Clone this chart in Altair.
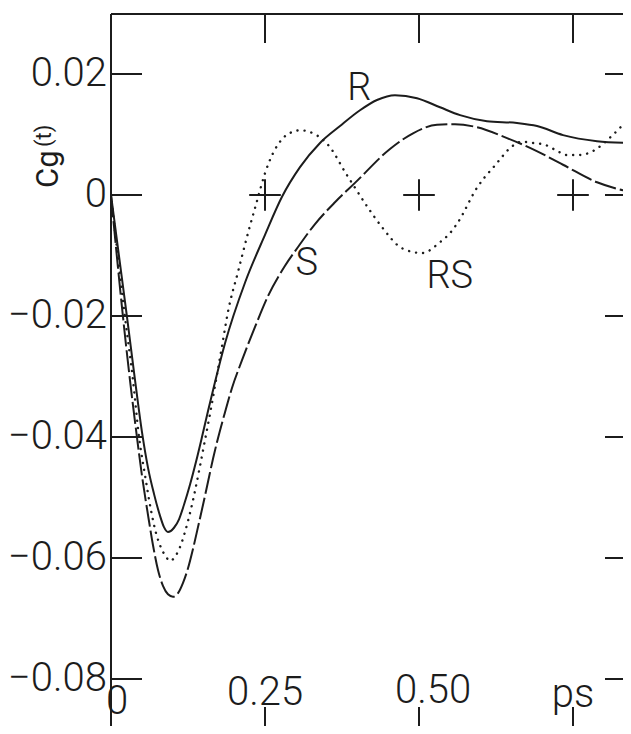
import altair as alt
import pandas as pd

# ---- data ----
t_R = [0.0, 0.0260, 0.0390, 0.0503, 0.0601, 0.0698, 0.0795, 0.0860, 0.0925, 0.1023, 0.1104,
       0.1185, 0.1282, 0.1380, 0.1477, 0.1575, 0.1672, 0.1851, 0.2175, 0.2500, 0.2776, 0.3068,
       0.3393, 0.3718, 0.4042, 0.4318, 0.4610, 0.4968, 0.5341, 0.5666, 0.6104, 0.6591, 0.6916,
       0.7338, 0.7890, 0.8425]
v_R = [0.0, -0.0202, -0.0306, -0.0392, -0.0451, -0.0494, -0.0530, -0.0549, -0.0557, -0.0550, -0.0536,
       -0.0512, -0.0479, -0.0441, -0.0400, -0.0357, -0.0316, -0.0245, -0.0145, -0.0066, -0.0003, 0.0046,
       0.0086, 0.0114, 0.0140, 0.0157, 0.0165, 0.0160, 0.0145, 0.0132, 0.0122, 0.0119, 0.0114,
       0.0099, 0.0089, 0.0086]

t_S = [0.0, 0.0195, 0.0308, 0.0406, 0.0503, 0.0601, 0.0682, 0.0763, 0.0844, 0.0925, 0.1006,
       0.1088, 0.1169, 0.1250, 0.1331, 0.1412, 0.1494, 0.1575, 0.1656, 0.1737, 0.1851, 0.1964,
       0.2127, 0.2338, 0.2549, 0.2825, 0.3036, 0.3312, 0.3636, 0.3961, 0.4529, 0.4903, 0.5292,
       0.5584, 0.5942, 0.6429, 0.6802, 0.7338, 0.7890, 0.8425]
v_S = [0.0, -0.0202, -0.0306, -0.0388, -0.0464, -0.0529, -0.0579, -0.0620, -0.0646, -0.0660, -0.0664,
       -0.0658, -0.0641, -0.0617, -0.0585, -0.0549, -0.0512, -0.0474, -0.0436, -0.0402, -0.0359, -0.0319,
       -0.0273, -0.0218, -0.0167, -0.0117, -0.0086, -0.0048, -0.0012, 0.0020, 0.0076, 0.0102, 0.0116,
       0.0117, 0.0112, 0.0094, 0.0078, 0.0050, 0.0021, 0.0005]

t_RS = [0.0, 0.0227, 0.0357, 0.0455, 0.0552, 0.0649, 0.0731, 0.0812, 0.0893, 0.0958,
        0.1039, 0.1120, 0.1201, 0.1282, 0.1364, 0.1445, 0.1526, 0.1607, 0.1705, 0.1802, 0.1899,
        0.2062, 0.2224, 0.2370, 0.2500, 0.2630, 0.2792, 0.2938, 0.3068, 0.3279, 0.3555, 0.3799,
        0.3961, 0.4172, 0.4399, 0.4724, 0.5049, 0.5341, 0.5503, 0.5633, 0.5942, 0.6071, 0.6201,
        0.6331, 0.6461, 0.6672, 0.6851, 0.7045, 0.7224, 0.7403, 0.7581, 0.7792, 0.7971, 0.8133,
        0.8263, 0.8393]
v_RS = [0.0, -0.0202, -0.0306, -0.0400, -0.0463, -0.0521, -0.0559, -0.0583, -0.0598, -0.0605,
        -0.0598, -0.0582, -0.0557, -0.0526, -0.0489, -0.0448, -0.0405, -0.0362, -0.0306, -0.0250, -0.0193,
        -0.0127, -0.0063, -0.0010, 0.0036, 0.0069, 0.0094, 0.0104, 0.0107, 0.0102, 0.0079, 0.0038,
        0.0012, -0.0021, -0.0053, -0.0088, -0.0096, -0.0078, -0.0063, -0.0045, 0.0012, 0.0030, 0.0045,
        0.0061, 0.0076, 0.0088, 0.0086, 0.0083, 0.0074, 0.0066, 0.0066, 0.0071, 0.0083, 0.0098,
        0.0111, 0.0126]

y_tick_vals = [0.02, 0.0, -0.02, -0.04, -0.06, -0.08]
y_tick_text = ["0.02", "0", "\u22120.02", "\u22120.04", "\u22120.06", "\u22120.08"]
x_tick_vals = [0.25, 0.50, 0.75]
x_label_vals = [0.0, 0.25, 0.50, 0.75]
x_label_text = ["0", "0.25", "0.50", "ps"]

curve_names = ["R", "S", "RS"]
curve_label_t = [0.403, 0.318, 0.550]
curve_label_v = [0.0157, -0.0132, -0.0154]

y_title = "Cg"
y_title_sup = "(t)"

# ---- styling ----
INK = "#1c1c1c"
FONT = "Roboto"
W, H = 512, 712
xs = alt.Scale(domain=[0, W / 616], nice=False, zero=False)
ys = alt.Scale(domain=[(195 - 726) / 6050, (195 - 14) / 6050], nice=False, zero=False)
X = lambda f: alt.X(f, type="quantitative", scale=xs, axis=None)
Y = lambda f: alt.Y(f, type="quantitative", scale=ys, axis=None)

def line(ts, vs, **kw):
    df = pd.DataFrame({"t": ts, "v": vs})
    return alt.Chart(df).mark_line(color=INK, interpolate="monotone", clip=True, **kw).encode(
        x=X("t"), y=Y("v"))

solid = line(t_R, v_R, strokeWidth=2)
dashed = line(t_S, v_S, strokeWidth=2, strokeDash=[22, 4])
dotted = line(t_RS, v_RS, strokeWidth=2.4, strokeDash=[0.1, 7], strokeCap="round")

ydf = pd.DataFrame({"v": y_tick_vals, "lab": y_tick_text})
xdf = pd.DataFrame({"t": x_tick_vals})

left_ticks = alt.Chart(ydf).mark_rule(color=INK, strokeWidth=2).encode(
    y=Y("v"), x=alt.value(0), x2=alt.value(31))
right_ticks = alt.Chart(ydf).mark_rule(color=INK, strokeWidth=2).encode(
    y=Y("v"), x=alt.value(W - 18), x2=alt.value(W))
top_ticks = alt.Chart(xdf).mark_rule(color=INK, strokeWidth=2).encode(
    x=X("t"), y=alt.value(0), y2=alt.value(29))
bottom_ticks = alt.Chart(xdf).mark_rule(color=INK, strokeWidth=2).encode(
    x=X("t"), y=alt.value(H - 19), y2=alt.value(H))
plus = alt.Chart(xdf.assign(z=0.0)).mark_point(
    shape="M-1,0L1,0M0,-1L0,1", size=1000, filled=False, strokeWidth=2, color=INK, opacity=1
).encode(x=X("t"), y=Y("z"))

left_axis = alt.Chart(ydf.head(1)).mark_rule(color=INK, strokeWidth=2).encode(
    x=alt.value(0), y=alt.value(0), y2=alt.value(H))
top_axis = alt.Chart(ydf.head(1)).mark_rule(color=INK, strokeWidth=2).encode(
    y=alt.value(0), x=alt.value(0), x2=alt.value(W))

ylabels = alt.Chart(ydf).mark_text(
    align="right", baseline="middle", dx=-4, fontSize=40, font=FONT, fontWeight=300, color=INK
).encode(y=Y("v"), x=alt.value(0), text="lab:N")

xl = pd.DataFrame({"t": x_label_vals, "lab": x_label_text})
xlab_layers = []
for i, (dx, yb) in enumerate([(6, 700), (0, 691), (14, 689), (0, 693)]):
    xlab_layers.append(
        alt.Chart(xl.iloc[[i]]).mark_text(
            align="center", baseline="alphabetic", dx=dx, fontSize=40, font=FONT, fontWeight=300, color=INK
        ).encode(x=X("t"), y=alt.value(yb), text="lab:N"))

cl = pd.DataFrame({"t": curve_label_t, "v": curve_label_v, "lab": curve_names})
curve_labels = alt.Chart(cl).mark_text(
    align="center", baseline="alphabetic", fontSize=38, font=FONT, fontWeight=300, color=INK
).encode(x=X("t"), y=Y("v"), text="lab:N")

title_main = alt.Chart(pd.DataFrame({"s": [y_title]})).mark_text(
    align="left", baseline="alphabetic", fontSize=31, font=FONT, color=INK, angle=270
).encode(x=alt.value(-53), y=alt.value(174), text="s:N")
title_sup = alt.Chart(pd.DataFrame({"s": [y_title_sup]})).mark_text(
    align="left", baseline="alphabetic", fontSize=22, font=FONT, color=INK, angle=270
).encode(x=alt.value(-60), y=alt.value(133), text="s:N")

chart = alt.layer(
    left_axis, top_axis, left_ticks, right_ticks, top_ticks, bottom_ticks, plus,
    dashed, dotted, solid, ylabels, *xlab_layers, curve_labels, title_main, title_sup
).properties(
    width=W, height=H,
    autosize=alt.AutoSizeParams(type="none"),
    padding={"left": 103, "top": 6, "right": 0, "bottom": 0},
    background="white",
).configure_view(stroke=None)

chart.save("out.html", embed_options={"renderer": "svg", "actions": False})
